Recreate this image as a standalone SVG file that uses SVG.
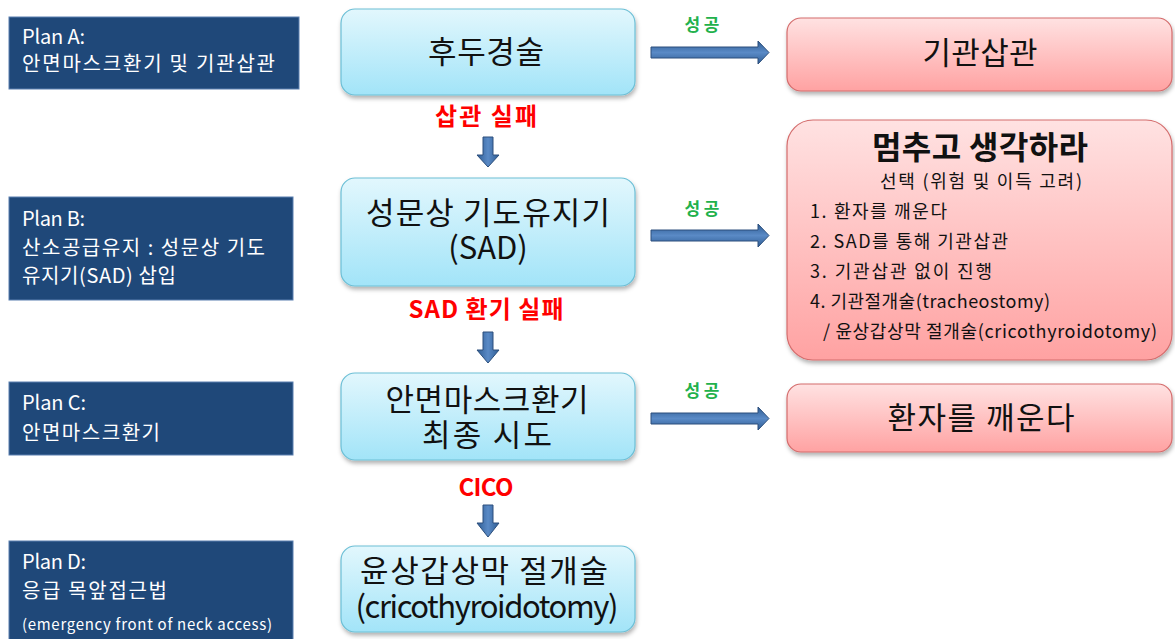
<svg xmlns="http://www.w3.org/2000/svg" width="1175" height="639" viewBox="0 0 1175 639">
<defs>
<linearGradient id="gBlue" x1="0" y1="0" x2="0" y2="1"><stop offset="0" stop-color="#e2f7fd"/><stop offset="1" stop-color="#a2e4f8"/></linearGradient>
<linearGradient id="gRed" x1="0" y1="0" x2="0" y2="1"><stop offset="0" stop-color="#ffe2e2"/><stop offset="1" stop-color="#ffa2a2"/></linearGradient>
<linearGradient id="gArrH" x1="0" y1="0" x2="0" y2="1"><stop offset="0" stop-color="#2f5d94"/><stop offset="0.5" stop-color="#5a8ac6"/><stop offset="1" stop-color="#2f5d94"/></linearGradient>
<linearGradient id="gArrV" x1="0" y1="0" x2="1" y2="0"><stop offset="0" stop-color="#2f5d94"/><stop offset="0.5" stop-color="#5a8ac6"/><stop offset="1" stop-color="#2f5d94"/></linearGradient>
<filter id="sh" x="-5%" y="-10%" width="110%" height="130%"><feDropShadow dx="1" dy="3" stdDeviation="2" flood-color="#000" flood-opacity="0.3"/></filter>
</defs>
<style>
.plan{fill:#1f4879;stroke:#5a7fb0;stroke-width:1}
.pt{font-family:"Noto Sans CJK KR","Noto Sans",sans-serif;font-size:20px;fill:#ffffff}
.bn{fill:url(#gBlue);stroke:#6cbfd6;stroke-width:1.2;filter:url(#sh)}
.rn{fill:url(#gRed);stroke:#d46c6c;stroke-width:1.2;filter:url(#sh)}
.nt{font-family:"Noto Sans CJK KR","Noto Sans",sans-serif;font-size:31px;fill:#111;text-anchor:middle}
.lt{font-family:"Noto Sans CJK KR","Noto Sans",sans-serif;font-size:18px;fill:#111}
.fail{font-family:"Noto Sans CJK KR","Noto Sans",sans-serif;font-size:24px;font-weight:bold;fill:#ff0000;text-anchor:middle}
.ok{font-family:"Noto Sans CJK KR","Noto Sans",sans-serif;font-size:17px;font-weight:bold;fill:#22b14c;text-anchor:middle}
.ah{fill:url(#gArrH);stroke:#2c4f7c;stroke-width:1}
.av{fill:url(#gArrV);stroke:#2c4f7c;stroke-width:1}
</style>

<g id="planA"><rect class="plan" x="9" y="17" width="290" height="72"/><text class="pt" x="22" y="44" textLength="63" lengthAdjust="spacing">Plan A:</text><text class="pt" x="22" y="71" textLength="253" lengthAdjust="spacing">안면마스크환기 및 기관삽관</text></g>
<g id="planB"><rect class="plan" x="9" y="197" width="284" height="103"/><text class="pt" x="22" y="226" textLength="63" lengthAdjust="spacing">Plan B:</text><text class="pt" x="22" y="255" textLength="243" lengthAdjust="spacing">산소공급유지 : 성문상 기도</text><text class="pt" x="22" y="283" textLength="154" lengthAdjust="spacing">유지기(SAD) 삽입</text></g>
<g id="planC"><rect class="plan" x="9" y="382" width="284" height="73"/><text class="pt" x="22" y="410" textLength="64" lengthAdjust="spacing">Plan C:</text><text class="pt" x="22" y="440" textLength="138" lengthAdjust="spacing">안면마스크환기</text></g>
<g id="planD"><rect class="plan" x="9" y="541" width="284" height="100"/><text class="pt" x="22" y="569" textLength="64" lengthAdjust="spacing">Plan D:</text><text class="pt" x="22" y="598" textLength="145" lengthAdjust="spacing">응급 목앞접근법</text><text class="pt" x="22" y="630" style="font-size:15px" textLength="250" lengthAdjust="spacing">(emergency front of neck access)</text></g>

<g id="n1"><rect class="bn" x="341" y="9" width="294" height="86" rx="14"/><text class="nt" x="486" y="63" textLength="116" lengthAdjust="spacing">후두경술</text></g>
<g id="n2"><rect class="bn" x="341" y="178" width="294" height="108" rx="14"/><text class="nt" x="488" y="224" textLength="244" lengthAdjust="spacing">성문상 기도유지기</text><text class="nt" x="488" y="259">(SAD)</text></g>
<g id="n3"><rect class="bn" x="341" y="373" width="294" height="87" rx="14"/><text class="nt" x="487" y="411" textLength="203" lengthAdjust="spacing">안면마스크환기</text><text class="nt" x="487" y="446" textLength="130" lengthAdjust="spacing">최종 시도</text></g>
<g id="n4"><rect class="bn" x="341" y="546" width="294" height="86" rx="14"/><text class="nt" x="484" y="582" textLength="248" lengthAdjust="spacing">윤상갑상막 절개술</text><text class="nt" x="487" y="618" textLength="263" lengthAdjust="spacing">(cricothyroidotomy)</text></g>

<g id="r1"><rect class="rn" x="787" y="18" width="385" height="73" rx="14"/><text class="nt" x="980" y="64" textLength="115" lengthAdjust="spacing">기관삽관</text></g>
<g id="r2"><rect class="rn" x="787" y="120" width="385" height="240" rx="26"/>
<text class="nt" x="980" y="159" style="font-weight:bold;font-size:32px" textLength="216" lengthAdjust="spacing">멈추고 생각하라</text>
<text class="lt" x="981" y="188" style="text-anchor:middle" textLength="202" lengthAdjust="spacing">선택 (위험 및 이득 고려)</text>
<text class="lt" x="810" y="218" textLength="137" lengthAdjust="spacing">1. 환자를 깨운다</text>
<text class="lt" x="810" y="248" textLength="198" lengthAdjust="spacing">2. SAD를 통해 기관삽관</text>
<text class="lt" x="810" y="278" textLength="182" lengthAdjust="spacing">3. 기관삽관 없이 진행</text>
<text class="lt" x="810" y="308" textLength="240" lengthAdjust="spacing">4. 기관절개술(tracheostomy)</text>
<text class="lt" x="823" y="338" textLength="334" lengthAdjust="spacing">/ 윤상갑상막 절개술(cricothyroidotomy)</text>
</g>
<g id="r3"><rect class="rn" x="787" y="384" width="385" height="68" rx="14"/><text class="nt" x="981" y="429" textLength="187" lengthAdjust="spacing">환자를 깨운다</text></g>

<g id="connectors">
<path class="ah" d="M651,47 H758 V41 L769,52.5 L758,64 V58 H651 Z"/>
<path class="ah" d="M651,230 H758 V224 L769,235.5 L758,247 V241 H651 Z"/>
<path class="ah" d="M651,413 H758 V407 L769,418.5 L758,430 V424 H651 Z"/>
<path class="av" d="M483,137 H493 V155 H499 L488,167 L477,155 H483 Z"/>
<path class="av" d="M483,332 H493 V350 H499 L488,363 L477,350 H483 Z"/>
<path class="av" d="M483,505 H493 V523 H499 L488,537 L477,523 H483 Z"/>
<text class="ok" x="702" y="31" textLength="35" lengthAdjust="spacing">성공</text>
<text class="ok" x="702" y="215" textLength="35" lengthAdjust="spacing">성공</text>
<text class="ok" x="702" y="397" textLength="35" lengthAdjust="spacing">성공</text>
<text class="fail" x="486" y="125" textLength="102" lengthAdjust="spacing">삽관 실패</text>
<text class="fail" x="486" y="318" textLength="155" lengthAdjust="spacing">SAD 환기 실패</text>
<text class="fail" x="486" y="496" textLength="55" lengthAdjust="spacing">CICO</text>
</g>
</svg>
